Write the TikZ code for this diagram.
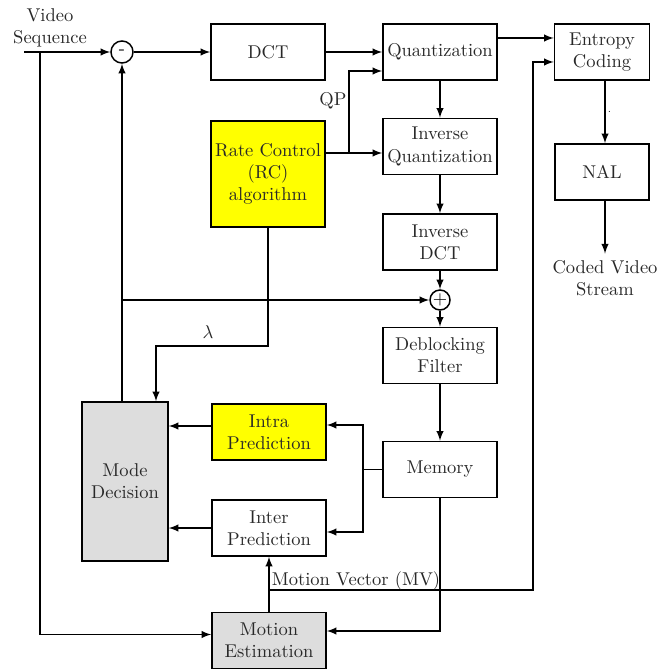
\documentclass[tikz,border=0pt]{standalone}
\usepackage{tikz}
\usetikzlibrary{arrows,arrows.meta}
\usetikzlibrary{calc,positioning}
\definecolor{rcyellow}{RGB}{255,255,0}
\definecolor{modegray}{RGB}{221,221,221}
\definecolor{textgray}{RGB}{40,40,40}

\tikzset{
    block/.style={draw, thick, align=center, inner sep=1pt, minimum width=61.6pt, minimum height=30.3pt, text=textgray},
    sumnode/.style={draw, thick, circle, inner sep=0pt},
    arr/.style={thick, -latex},
    lbl/.style={align=center, text=textgray}
}

\begin{document}
\begin{tikzpicture}[x=0.54pt, y=-0.54pt]

    \useasboundingbox (0,0) rectangle (665,670);

    % main chain
    \node[sumnode, minimum size=11.9pt] (minus) at (122,52) {-};
    \node[block] (dct) at (268,52) {DCT};
    \node[block] (quant) at (440,52) {Quantization};
    \node[block, minimum width=51.3pt] (entropy) at (602,52) {Entropy\\Coding};
    \node[block] (iquant) at (440,146.5) {Inverse\\Quantization};
    \node[block, fill=rcyellow, minimum height=57.2pt] (rc) at (268,174) {Rate Control\\(RC)\\algorithm};
    \node[block, minimum width=50.8pt] (nal) at (602,172) {NAL};
    \node[block] (idct) at (440,242) {Inverse\\DCT};
    \node[sumnode, minimum size=10.8pt] (sum) at (440,300) {$+$};
    \node[block] (deblock) at (440,355.5) {Deblocking\\Filter};
    \node[block] (memory) at (440,469.5) {Memory};
    \node[block, fill=modegray, minimum width=46.4pt, minimum height=85.9pt] (mode) at (125,481.5) {Mode\\Decision};
    \node[block, fill=rcyellow] (intra) at (269,432) {Intra\\Prediction};
    \node[block] (inter) at (269,528) {Inter\\Prediction};
    \node[block, fill=modegray] (me) at (269,640.5) {Motion\\Estimation};

    \node[lbl] (vs) at (50,28) {Video\\Sequence};
    \node[lbl] (coded) at (605,278) {Coded Video\\Stream};

    % input
    \coordinate (in) at (24,52);
    \coordinate (inb) at (40,52);
    \draw[arr] (in) -- (minus);
    \draw[arr] (inb) |- ($(me.west)+(0,-6)$);

    \draw[arr] (minus) -- (dct);
    \draw[arr] (dct) -- (quant);
    \draw[arr] ($(quant.east)+(0,-14)$) -- ($(entropy.west)+(0,-14)$);

    % rate control
    \coordinate (iqin) at ($(iquant.west)+(0,6.5)$);
    \draw[arr] (rc.east |- iqin) -- (iqin);
    \coordinate (qpb) at (349,153);
    \draw[arr] (qpb) |- ($(quant.west)+(0,19)$);
    \node[lbl] (qp) at (333,101) {QP};

    \coordinate (lam) at (156,346);
    \draw[arr] (rc.south) |- (lam) -- (lam |- mode.north);
    \node[lbl] (lamlbl) at (208,332) {$\lambda$};

    % reconstruction loop
    \draw[arr] (quant) -- (iquant);
    \draw[arr] (iquant) -- (idct);
    \draw[arr] (idct) -- (sum);
    \draw[arr] (sum) -- (deblock);
    \draw[arr] (deblock) -- (memory);

    \draw[arr] (mode.north -| minus) -- (minus);
    \draw[arr] (minus |- sum) -- (sum);

    % prediction
    \coordinate (mb) at (363,469.5);
    \draw[thick] (memory.west) -- (mb);
    \draw[arr] (mb) |- ($(intra.east)+(0,-7)$);
    \draw[arr] (mb) |- ($(inter.east)+(0,4)$);
    \draw[arr] ($(intra.west)+(0,-6)$) -- ($(intra.west -| mode.east)+(0,-6)$);
    \draw[arr] (inter.west) -- (inter.west -| mode.east);

    \draw[arr] (memory.south) |- ($(me.east)+(0,-9.5)$);
    \draw[arr] (me.north) -- (inter.south);

    \coordinate (mv) at (269,590);
    \coordinate (mvc) at (533,590);
    \draw[arr] (mv) -- (mvc) |- ($(entropy.west)+(0,10)$);
    \node[lbl] (mvlbl) at (356,581) {Motion Vector (MV)};

    % output
    \draw[arr] ($(entropy.south)+(3,0)$) -- node[right, font=\tiny, inner sep=1pt] {.} ($(nal.north)+(3,0)$);
    \draw[arr] ($(nal.south)+(3,0)$) -- (coded.north);

\end{tikzpicture}
\end{document}
